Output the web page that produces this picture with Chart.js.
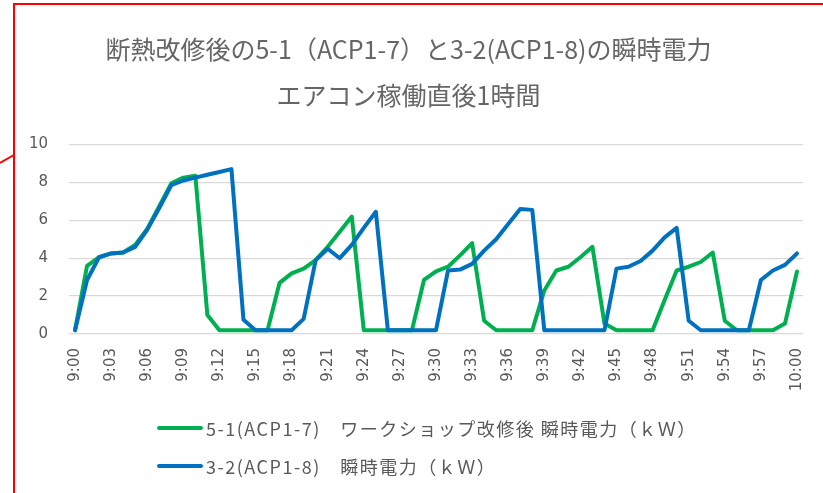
<!DOCTYPE html>
<html>
<head>
<meta charset="utf-8">
<script src="https://cdn.jsdelivr.net/npm/chart.js@4.4.1/dist/chart.umd.min.js"></script>
<style>
  html, body { margin: 0; padding: 0; background: #fff; }
  #wrap { position: relative; width: 823px; height: 493px; overflow: hidden; }
  #box { position: absolute; left: 13px; top: 3px; width: 830px; height: 500px;
         border-top: 2px solid #ff0000; border-left: 2px solid #ff0000; }
  #tick-red { position: absolute; left: 0; top: 162px; width: 16px; height: 2px;
              background: #ff0000; transform: rotate(-30deg); transform-origin: left center; }
  #chart-box { position: absolute; left: 0; top: 0; width: 823px; height: 493px; }
  #legend { position: absolute; left: 157px; top: 409px; font-family: "Noto Sans CJK JP", sans-serif;
            font-size: 18px; color: #595959; letter-spacing: 1.5px; }
  .row { display: flex; align-items: center; height: 38px; white-space: pre; }
  .swatch { width: 46px; height: 4px; border-radius: 2px; margin-right: 3px; }
</style>
</head>
<body>
<div id="wrap">
  <div id="chart-box"><canvas id="c"></canvas></div>
  <div id="box"></div>
  <div id="tick-red"></div>
  <div id="legend"></div>
</div>
<script>
// minute labels 9:00 .. 10:00
const times = [
  '9:00','9:01','9:02','9:03','9:04','9:05','9:06','9:07','9:08','9:09',
  '9:10','9:11','9:12','9:13','9:14','9:15','9:16','9:17','9:18','9:19',
  '9:20','9:21','9:22','9:23','9:24','9:25','9:26','9:27','9:28','9:29',
  '9:30','9:31','9:32','9:33','9:34','9:35','9:36','9:37','9:38','9:39',
  '9:40','9:41','9:42','9:43','9:44','9:45','9:46','9:47','9:48','9:49',
  '9:50','9:51','9:52','9:53','9:54','9:55','9:56','9:57','9:58','9:59',
  '10:00'
]

// 5-1 (ACP1-7) kW
const power51 = [
  0.2, 3.6, 4.05, 4.25, 4.3, 4.7, 5.55, 6.75, 7.95, 8.25,
  8.35, 1.0, 0.2, 0.2, 0.2, 0.2, 0.2, 2.7, 3.2, 3.45,
  3.9, 4.6, 5.4, 6.2, 0.2, 0.2, 0.2, 0.2, 0.2, 2.85,
  3.3, 3.55, 4.15, 4.8, 0.7, 0.2, 0.2, 0.2, 0.2, 2.3,
  3.35, 3.55, 4.05, 4.6, 0.55, 0.2, 0.2, 0.2, 0.2, 1.8,
  3.35, 3.55, 3.8, 4.3, 0.7, 0.2, 0.2, 0.2, 0.2, 0.55,
  3.3
]

// 3-2 (ACP1-8) kW
const power32 = [
  0.2, 2.85, 4.05, 4.25, 4.3, 4.6, 5.5, 6.65, 7.85, 8.1,
  8.25, 8.4, 8.55, 8.7, 0.75, 0.2, 0.2, 0.2, 0.2, 0.8,
  3.9, 4.5, 4.0, 4.7, 5.6, 6.45, 0.2, 0.2, 0.2, 0.2,
  0.2, 3.35, 3.4, 3.7, 4.4, 5.0, 5.8, 6.6, 6.55, 0.2,
  0.2, 0.2, 0.2, 0.2, 0.2, 3.45, 3.55, 3.85, 4.4, 5.1,
  5.6, 0.7, 0.2, 0.2, 0.2, 0.2, 0.2, 2.85, 3.35, 3.65,
  4.25
]

const seriesNames = [
  '5-1(ACP1-7)　ワークショップ改修後 瞬時電力（ｋＷ）',
  '3-2(ACP1-8)　瞬時電力（ｋＷ）'
]
const seriesColors = ['#00B050', '#0070C0']
const titleLines = ['断熱改修後の5-1（ACP1-7）と3-2(ACP1-8)の瞬時電力', 'エアコン稼働直後1時間']

const grey = '#595959'
const tickFont = { family: 'DejaVu Sans', size: 15 }

new Chart(document.getElementById('c'), {
  type: 'line',
  data: {
    labels: times,
    datasets: [
      { label: seriesNames[0], data: power51, borderColor: seriesColors[0], order: 1 },
      { label: seriesNames[1], data: power32, borderColor: seriesColors[1], order: 0 },
    ].map(d => ({
      ...d,
      borderWidth: 4,
      pointRadius: 0,
      tension: 0,
      borderJoinStyle: 'round',
      borderCapStyle: 'round',
      fill: false,
    })),
  },
  options: {
    responsive: true,
    maintainAspectRatio: false,
    animation: false,
    layout: { padding: { left: 14, right: 20, top: 0, bottom: 99 } },
    plugins: {
      legend: { display: false },
      tooltip: { enabled: false },
      title: {
        display: true,
        text: titleLines,
        color: '#666666',
        font: { family: '"Noto Sans CJK JP"', size: 25, weight: 'normal', lineHeight: 1.85 },
        padding: { top: 26, bottom: 26 },
      },
    },
    scales: {
      x: {
        offset: true,
        grid: { display: false },
        border: { display: false },
        ticks: {
          color: grey,
          font: tickFont,
          autoSkip: false,
          minRotation: 90,
          maxRotation: 90,
          padding: 6,
          callback: (v, i) => (i % 3 === 0 ? times[i] : ''),
        },
        afterFit: s => { s.height = 60 },
      },
      y: {
        min: 0,
        max: 10,
        grid: { color: '#D9D9D9', lineWidth: 1.3, drawTicks: false },
        border: { display: false },
        ticks: { stepSize: 2, color: grey, font: tickFont, padding: 21 },
        afterFit: s => { s.width = 55 },
      },
    },
  },
})

// legend drawn as html rows, one series per row
const legend = document.getElementById('legend')
seriesNames.forEach((name, i) => {
  const row = document.createElement('div')
  row.className = 'row'
  row.innerHTML = `<span class="swatch" style="background:${seriesColors[i]}"></span><span>${name}</span>`
  legend.appendChild(row)
})
</script>
</body>
</html>
